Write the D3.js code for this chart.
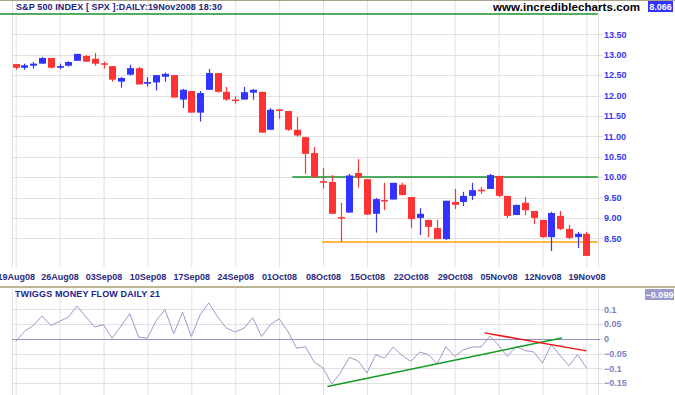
<!DOCTYPE html>
<html>
<head>
<meta charset="utf-8">
<script src="https://cdn.jsdelivr.net/npm/d3@7"></script>
<style>
  body { margin: 0; background: #fff; }
  svg { display: block; font-family: "Liberation Sans", Arial, sans-serif; }
</style>
</head>
<body>
<svg width="675" height="395"></svg>
<script>
// chart data (prices shown /100 as in the original)
const dates = ['19Aug08','26Aug08','03Sep08','10Sep08','17Sep08','24Sep08','01Oct08','08Oct08','15Oct08','22Oct08','29Oct08','05Nov08','12Nov08','19Nov08']
const priceTicks = [8.5, 9, 9.5, 10, 10.5, 11, 11.5, 12, 12.5, 13, 13.5]
const mfTicks = [-0.15, -0.1, -0.05, 0, 0.05, 0.1]

const open  = [12.77,12.68,12.73,12.78,12.92,12.68,12.73,12.85,12.97,12.90,12.79,12.72,12.34,12.51,12.67,12.29,12.32,12.46,12.50,11.90,12.11,11.58,12.14,12.55,12.09,11.90,11.90,12.07,12.09,11.16,11.66,11.62,11.16,10.98,10.59,9.90,9.88,9.02,9.13,10.10,9.95,9.10,9.44,9.45,9.81,9.51,9.00,8.95,8.75,8.48,9.39,9.39,9.54,9.69,9.71,10.03,9.54,9.07,9.37,9.17,8.95,8.53,9.05,8.73,8.53,8.61]
const high  = [12.77,12.78,12.82,12.94,12.92,12.78,12.84,13.02,12.99,13.04,12.83,12.72,12.45,12.75,12.70,12.45,12.50,12.56,12.50,12.16,12.11,12.11,12.65,12.55,12.21,11.98,12.21,12.16,12.09,11.69,11.66,11.62,11.47,10.98,10.74,10.22,10.05,9.37,10.08,10.44,9.95,9.49,9.86,9.86,9.86,9.51,9.24,8.96,8.95,9.42,9.71,9.64,9.86,9.76,10.08,10.03,9.54,9.32,9.51,9.17,8.95,9.15,9.17,8.83,8.66,8.66]
const low   = [12.64,12.63,12.66,12.78,12.66,12.64,12.71,12.85,12.83,12.73,12.66,12.34,12.19,12.49,12.27,12.22,12.12,12.34,11.95,11.69,11.58,11.36,12.14,12.07,11.87,11.80,11.90,11.90,11.09,11.16,11.43,11.13,10.99,10.08,10.00,9.72,9.10,8.42,9.13,9.74,9.07,8.64,9.19,9.45,9.55,8.75,8.58,8.53,8.48,8.46,9.22,9.29,9.44,9.59,9.71,9.51,9.00,9.07,9.07,8.85,8.51,8.19,8.70,8.48,8.26,8.07]
const close = [12.68,12.74,12.78,12.92,12.68,12.72,12.82,13.02,12.83,12.78,12.78,12.39,12.43,12.67,12.27,12.33,12.50,12.53,11.95,12.14,11.58,12.06,12.55,12.09,11.90,11.89,12.08,12.14,11.09,11.65,11.64,11.16,11.02,10.57,10.00,9.88,9.10,9.00,10.04,9.99,9.08,9.46,9.43,9.86,9.56,8.97,9.10,8.78,8.48,9.42,9.32,9.54,9.68,9.68,10.05,9.54,9.05,9.32,9.19,9.00,8.53,9.12,8.73,8.51,8.61,8.07]

const moneyFlow = [-0.009,0.025,0.045,0.077,0.045,0.059,0.074,0.111,0.074,0.040,0.048,0.002,0.043,0.085,0.006,0.002,0.062,0.099,0.017,0.090,0.008,0.081,0.122,0.074,0.036,0.023,0.036,0.072,0.008,0.048,0.068,0.025,-0.032,-0.027,-0.079,-0.099,-0.153,-0.115,-0.063,-0.075,-0.116,-0.054,-0.066,-0.028,-0.056,-0.077,-0.045,-0.054,-0.085,-0.027,-0.060,-0.037,-0.028,-0.028,0.009,-0.023,-0.060,-0.026,-0.040,-0.045,-0.082,-0.020,-0.056,-0.092,-0.054,-0.099]

// drawn lines: [index, value] end points
const priceLines = [
    {pts: [[-1.8, 14.0], [66.3, 14.0]], color: '#14932a'},
    {pts: [[31.5, 10.0], [66.3, 10.0]], color: '#14932a'},
    {pts: [[34.9, 8.41], [66.3, 8.41]], color: '#ffa000'}
]
const mfLines = [
    {pts: [[35.5, -0.162], [62.2, 0.003]], color: '#139a22'},
    {pts: [[53.4, 0.020], [65.0, -0.041]], color: '#ee1111'}
]

const svg = d3.select('svg')
const left = 12, right = 598
const priceTop = 1, priceBottom = 267
const mfTop = 289, mfBottom = 395
const gridColor = '#e0e0e0'

const x = d3.scaleLinear().domain([0, 65]).range([15.7, 586.4])
const y = d3.scaleLinear().domain([8.5, 13.5]).range([238.3, 34.3])
const ym = d3.scaleLinear().domain([-0.15, 0.1]).range([383, 309.3])

const tickIdx = dates.map((d, i) => i * 5)

// vertical grid in both panels
const drawVGrid = (top, bottom) => {
    svg.append('g')
        .attr('transform', `translate(0,${bottom})`)
        .call(d3.axisBottom(x).tickValues(tickIdx).tickSize(-(bottom - top)).tickFormat(''))
        .call(g => g.select('.domain').remove())
        .call(g => g.selectAll('line').attr('stroke', gridColor))
    svg.append('g').selectAll('line').data([left, right]).join('line')
        .attr('x1', d => d + 0.5).attr('x2', d => d + 0.5)
        .attr('y1', top).attr('y2', bottom)
        .attr('stroke', gridColor)
}
drawVGrid(priceTop, priceBottom)
drawVGrid(mfTop, mfBottom)

// horizontal grid + right axis, price
svg.append('g')
    .attr('transform', `translate(${right},0)`)
    .call(d3.axisRight(y).tickValues(priceTicks).tickSize(5).tickPadding(1).tickFormat(d3.format('.2f')))
    .call(g => g.select('.domain').remove())
    .call(g => g.selectAll('line').attr('stroke', '#d8d8e8'))
    .call(g => g.selectAll('text').attr('fill', '#3636f0').attr('font-size', 9).attr('font-weight', 'bold'))
svg.append('g').selectAll('line').data(priceTicks).join('line')
    .attr('x1', left).attr('x2', right)
    .attr('y1', d => Math.round(y(d)) + 0.5).attr('y2', d => Math.round(y(d)) + 0.5)
    .attr('stroke', gridColor)

// horizontal grid + right axis, money flow
svg.append('g')
    .attr('transform', `translate(${right},0)`)
    .call(d3.axisRight(ym).tickValues(mfTicks).tickSize(5).tickPadding(1).tickFormat(d => d3.format('')(+d.toFixed(2))))
    .call(g => g.select('.domain').remove())
    .call(g => g.selectAll('line').attr('stroke', '#d8d8e8'))
    .call(g => g.selectAll('text').attr('fill', '#8080c4').attr('font-size', 9).attr('font-weight', 'bold'))
svg.append('g').selectAll('line').data(mfTicks).join('line')
    .attr('x1', left).attr('x2', d => d === 0 ? right + 2 : right)
    .attr('y1', d => Math.round(ym(d)) + 0.5).attr('y2', d => Math.round(ym(d)) + 0.5)
    .attr('stroke', d => d === 0 ? '#9494c4' : gridColor)

// x labels
svg.append('g')
    .attr('transform', `translate(0,${priceBottom})`)
    .call(d3.axisBottom(x).tickValues(tickIdx).tickSize(0).tickPadding(7).tickFormat((d, i) => dates[i]))
    .call(g => g.select('.domain').remove())
    .call(g => g.selectAll('text').attr('fill', '#2a2a80').attr('font-size', 9).attr('font-weight', 'bold'))

// frame lines
svg.append('line').attr('x1', 0).attr('x2', 675).attr('y1', 0.5).attr('y2', 0.5).attr('stroke', '#a8a288')
svg.append('line').attr('x1', 0).attr('x2', 675).attr('y1', 287).attr('y2', 287).attr('stroke', '#bdb594').attr('stroke-width', 2)

// price lines
const lineP = d3.line().x(d => x(d[0])).y(d => y(d[1]))
svg.append('g').selectAll('path').data(priceLines).join('path')
    .attr('d', d => lineP(d.pts)).attr('stroke', d => d.color).attr('stroke-width', 1.5).attr('fill', 'none')

// candles
const idx = d3.range(open.length)
const up = i => close[i] >= open[i]
const candleColor = i => up(i) ? '#3333ff' : '#ff3333'
const candles = svg.append('g').selectAll('g').data(idx).join('g')
candles.append('line')
    .attr('x1', i => Math.round(x(i)) + 0.5).attr('x2', i => Math.round(x(i)) + 0.5)
    .attr('y1', i => y(high[i])).attr('y2', i => y(low[i]))
    .attr('stroke', candleColor).attr('stroke-width', 1.2)
candles.append('rect')
    .attr('x', i => Math.round(x(i)) - 3)
    .attr('width', 7)
    .attr('y', i => y(Math.max(open[i], close[i])))
    .attr('height', i => Math.max(1.5, Math.abs(y(open[i]) - y(close[i]))))
    .attr('fill', candleColor)

// money flow
const lineM = d3.line().x((d, i) => x(i)).y(d => ym(d))
svg.append('path').datum(moneyFlow)
    .attr('d', lineM).attr('fill', 'none').attr('stroke', '#9a9acc').attr('stroke-width', 1)
const lineT = d3.line().x(d => x(d[0])).y(d => ym(d[1]))
svg.append('g').selectAll('path').data(mfLines).join('path')
    .attr('d', d => lineT(d.pts)).attr('stroke', d => d.color).attr('stroke-width', 1.5).attr('fill', 'none')

// texts
svg.append('text').attr('x', 16).attr('y', 10)
    .attr('font-size', 9).attr('font-weight', 'bold').attr('fill', '#22227a')
    .attr('textLength', 206).attr('lengthAdjust', 'spacing')
    .text('S&P 500 INDEX [ SPX ]:DAILY:19Nov2008 18:30')
svg.append('text').attr('x', 15).attr('y', 297)
    .attr('font-size', 9).attr('font-weight', 'bold').attr('fill', '#22228a')
    .attr('textLength', 145).attr('lengthAdjust', 'spacing')
    .text('TWIGGS MONEY FLOW DAILY 21')
svg.append('text').attr('x', 493).attr('y', 11)
    .attr('font-size', 11.5).attr('font-weight', 'bold').attr('fill', '#000')
    .attr('textLength', 147).attr('lengthAdjust', 'spacing')
    .text('www.incrediblecharts.com')

// last value boxes
const badge = (bx, by, w, bg, txt) => {
    svg.append('rect').attr('x', bx).attr('y', by).attr('width', w).attr('height', 11).attr('fill', bg)
    svg.append('text').attr('x', bx + w / 2).attr('y', by + 8.5).attr('text-anchor', 'middle')
        .attr('font-size', 9).attr('font-weight', 'bold').attr('fill', '#fff').text(txt)
}
badge(648, 1, 25, '#3333ff', d3.format('.3f')(close[close.length - 1] - 0.004))
badge(645, 289, 29, '#9a9acc', d3.format('.3f')(moneyFlow[moneyFlow.length - 1]))
</script>
</body>
</html>
